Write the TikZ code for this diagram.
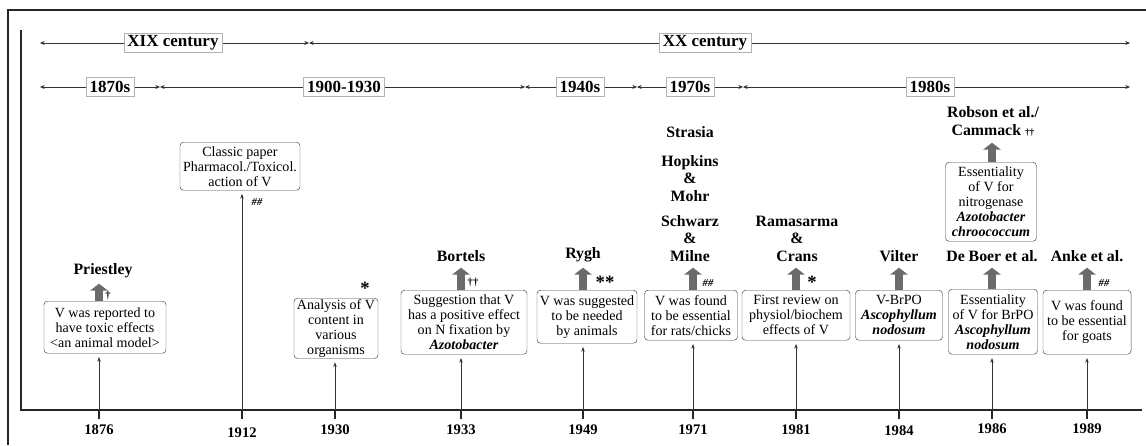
\documentclass[tikz,border=0pt]{standalone}
\usepackage{fontspec}
\setmainfont{Liberation Serif}
\usetikzlibrary{arrows.meta}

\tikzset{
  box/.style={draw=black!75, fill=white, rounded corners=3pt, align=center,
    inner sep=1pt, font=\fontsize{12}{12.8}\selectfont},
  per/.style={draw=black!80, line width=0.6pt,
    {Stealth[length=4pt,width=3.5pt]}-{Stealth[length=4pt,width=3.5pt]}},
  lab/.style={draw=black!30, fill=white, inner xsep=3pt, inner ysep=1pt,
    minimum height=0.58cm, font=\fontsize{14.5}{16}\selectfont\bfseries},
  who/.style={anchor=south, align=center, inner sep=1pt,
    font=\fontsize{13.5}{15}\selectfont\bfseries},
  yr/.style={anchor=base, font=\fontsize{12.5}{14}\selectfont\bfseries},
  up/.style={draw=black!58, line width=6.8pt,
    -{Triangle[width=15pt,length=6pt]}, shorten >=4pt},
  ev/.style={draw=black!80, line width=0.6pt,
    -{Stealth[length=4pt,width=3pt]}, shorten >=3pt},
  mk/.style={inner sep=0pt, font=\fontsize{9}{9}\selectfont\bfseries},
  bigmk/.style={anchor=south, inner sep=0pt, font=\fontsize{16}{16}\selectfont\bfseries},
}

\begin{document}
\begin{tikzpicture}[x={(0.03cm,0)}, y={(0,-0.03cm)}]
  \useasboundingbox (0,0) rectangle (1146,445);

  % frame and axes
  \draw[line width=1.5pt, black!85] (8,445) -- (8,10) -- (1146,10);
  \draw[line width=1.6pt, black!85] (21,30) -- (21,410) -- (1142,410);

  % centuries and decades
  \coordinate (c0) at (40,43);
  \coordinate (c1) at (309,43);
  \coordinate (c2) at (1130,43);
  \coordinate (d0) at (40,87);
  \coordinate (d1) at (160,87);
  \coordinate (d2) at (525,87);
  \coordinate (d3) at (637,87);
  \coordinate (d4) at (743,87);
  \coordinate (d5) at (1130,87);
  \draw[per] (c0) -- (c1);
  \draw[per] (c1) -- (c2);
  \foreach \a/\b in {d0/d1, d1/d2, d2/d3, d3/d4, d4/d5}
    \draw[per] (\a) -- (\b);

  \node[lab] (xix) at (173,43) {XIX century};
  \node[lab] (xx)  at (705,43) {XX century};
  \node[lab] (s1870) at (110,87) {1870s};
  \node[lab] (s1900) at (344,87) {1900-1930};
  \node[lab] (s1940) at (580,87) {1940s};
  \node[lab] (s1970) at (690,87) {1970s};
  \node[lab] (s1980) at (930,87) {1980s};

  % years on the axis
  \foreach \px/\yy/\by in {99/1876/434, 242/1912/437, 335/1930/434,
      461/1933/434, 583/1949/434, 693/1971/434, 796/1981/434,
      899/1984/435, 992/1986/433, 1087/1989/433} {
    \coordinate (t\yy) at (\px,410);
    \draw[line width=1.6pt, black!85] (t\yy) -- ++(0,9);
    \node[yr] (y\yy) at (\px,\by) {\yy};
  }

  % events
  \node[box, anchor=north, minimum width=3.66cm, minimum height=1.56cm] (b1876) at (105,301)
    {V was reported to\\have toxic effects\\<an animal model>};
  \node[box, anchor=north, minimum width=3.6cm, minimum height=1.44cm] (b1912) at (240,142)
    {Classic paper\\Pharmacol./Toxicol.\\action of V};
  \node[box, anchor=north, minimum width=2.52cm, minimum height=1.68cm] (b1930) at (336,298)
    {Analysis of V\\content in\\various\\organisms};
  \node[box, anchor=north, minimum width=3.78cm, minimum height=1.92cm] (b1933) at (464,290)
    {Suggestion that V\\has a positive effect\\on N fixation by\\\textbf{\textit{Azotobacter}}};
  \node[box, anchor=north, minimum width=3cm, minimum height=1.59cm] (b1949) at (587,290)
    {V was suggested\\to be needed\\by animals};
  \node[box, anchor=north, minimum width=2.79cm, minimum height=1.5cm] (b1971) at (691,290)
    {V was found\\to be essential\\for rats/chicks};
  \node[box, anchor=north, minimum width=3.24cm, minimum height=1.5cm] (b1981) at (796,290)
    {First review on\\physiol/biochem\\effects of V};
  \node[box, anchor=north, minimum width=2.61cm, minimum height=1.5cm] (b1984) at (899,290)
    {V-BrPO\\\textbf{\textit{Ascophyllum}}\\\textbf{\textit{nodosum}}};
  \node[box, anchor=north, minimum width=2.67cm, minimum height=1.95cm] (b1986) at (993,289)
    {Essentiality\\of V for BrPO\\\textbf{\textit{Ascophyllum}}\\\textbf{\textit{nodosum}}};
  \node[box, anchor=north, minimum width=2.73cm, minimum height=2.37cm] (b1986n) at (991,162)
    {Essentiality\\of V for\\nitrogenase\\\textbf{\textit{Azotobacter}}\\\textbf{\textit{chroococcum}}};
  \node[box, anchor=north, minimum width=2.64cm, minimum height=1.92cm] (b1989) at (1087,290)
    {V was found\\to be essential\\for goats};

  % who
  \node[who] (n1876) at (103,279) {Priestley};
  \node[who] (n1933) at (461,263) {Bortels};
  \node[who] (n1949) at (583,263) {Rygh};
  \node[who] (n1971) at (690,263) {Schwarz\\\&\\Milne};
  \node[who] (n1971b) at (690,203) {Hopkins\\\&\\Mohr};
  \node[who] (n1971c) at (690,139) {Strasia};
  \node[who] (n1981) at (797,263) {Ramasarma\\\&\\Crans};
  \node[who] (n1984) at (899,263) {Vilter};
  \node[who] (n1986) at (992,263) {De Boer et al.};
  \node[who] (n1986n) at (993,138) {Robson et al./\\Cammack {\fontsize{8}{8}\selectfont ††}};
  \node[who] (n1989) at (1087,263) {Anke et al.};

  % arrows from the axis
  \foreach \yy in {1876,1912,1930,1933,1949,1971,1981,1984,1986,1989}
    \draw[ev] (t\yy) -- (t\yy |- b\yy.south);

  % grey arrows
  \foreach \yy in {1876,1933,1949,1971,1981,1984,1986,1989}
    \draw[up] (t\yy |- b\yy.north) -- (t\yy |- n\yy.south);
  \draw[up] (t1986 |- b1986n.north) -- (t1986 |- n1986n.south);

  % marks
  \node[mk] (m1876) at (108,295) {†};
  \node[mk] (m1912) at (257,202) {\itshape \#\#};
  \node[bigmk] (m1930) at (365,295) {*};
  \node[mk] (m1933) at (473,282) {††};
  \node[bigmk] (m1949) at (605,289) {**};
  \node[mk] (m1971) at (708,283) {\itshape \#\#};
  \node[bigmk] (m1981) at (812,289) {*};
  \node[mk] (m1989) at (1104,283) {\itshape \#\#};
\end{tikzpicture}
\end{document}
